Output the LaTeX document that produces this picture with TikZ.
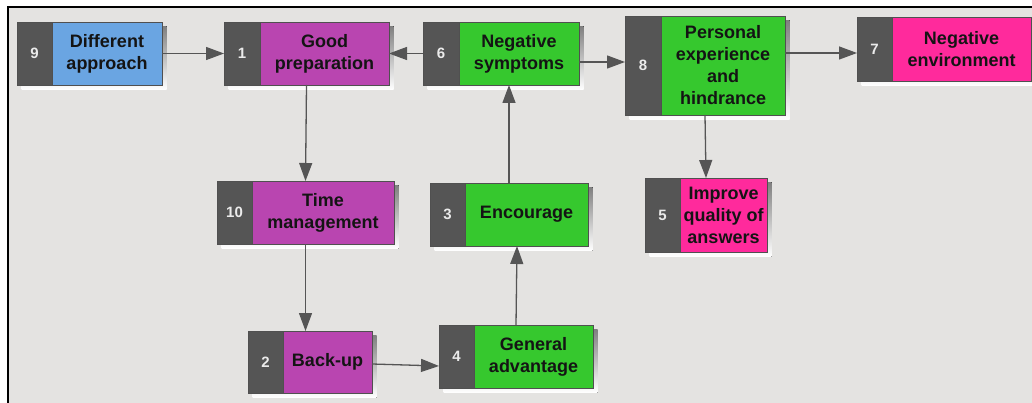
\documentclass[tikz,border=0pt]{standalone}
\usepackage{fontspec}
\setmainfont{Liberation Sans}
\usetikzlibrary{arrows.meta}

\definecolor{bg}{HTML}{E4E3E1}
\definecolor{numgray}{HTML}{555555}
\definecolor{shade}{HTML}{888888}
\definecolor{edgegray}{HTML}{505050}
\definecolor{cblue}{HTML}{6AA5E2}
\definecolor{cpurple}{HTML}{B945B0}
\definecolor{cgreen}{HTML}{36C82E}
\definecolor{cpink}{HTML}{FF2A9C}
\definecolor{ink}{HTML}{141414}

\tikzset{
  outerbox/.style={draw=edgegray, line width=0.8pt, fill=numgray, inner sep=0pt, outer sep=0pt},
  textpart/.style={draw=edgegray, line width=0.8pt, inner sep=0pt, outer sep=0pt, align=center,
    text=ink, font=\fontsize{18}{22}\selectfont\bfseries},
  numtext/.style={inner sep=0pt, text=white!92!black, font=\fontsize{15}{18}\selectfont\bfseries},
  conn/.style={draw=numgray, line width=1.3pt, -{Triangle[length=18pt,width=13pt]}}
}

% #1 name, #2..#5 corners (x1,y1,x2,y2), #6 split between number and text, #7 colour, #8 number, #9 text
\newcommand\factorbox[9]{%
  \fill[shade] ({#2+4.5},{#3+4.5}) rectangle ({#4+4.5},{#5+4.5});
  \node[outerbox, minimum width={#4-#2}, minimum height={#5-#3}] (#1) at ({(#2+#4)/2},{(#3+#5)/2}) {};
  \node[textpart, fill=#7, minimum width={#4-#6}, minimum height={#5-#3}] (#1-text) at ({(#6+#4)/2},{(#3+#5)/2}) {#9};
  \node[numtext] (#1-num) at ({(#2+#6)/2},{(#3+#5)/2}) {#8};
}

\begin{document}
\begin{tikzpicture}[x=1pt, y=-1pt]
  \useasboundingbox (0,0) rectangle (1032,403);
  \fill[white] (0,0) rectangle (1032,403);
  \fill[bg] (8,7) rectangle (1032,403);
  \draw[black, line width=1.5pt] (8,403) -- (8,7) -- (1032,7);

  \factorbox{n9}{17}{22}{162}{85}{52}{cblue}{9}{Different\\approach}
  \factorbox{n1}{224}{22}{389}{85}{260}{cpurple}{1}{Good\\preparation}
  \factorbox{n6}{423}{22}{579}{85}{459}{cgreen}{6}{Negative\\symptoms}
  \factorbox{n8}{625}{16}{785}{115}{661}{cgreen}{8}{Personal\\experience\\and\\hindrance}
  \factorbox{n7}{857}{17}{1031}{81}{892}{cpink}{7}{Negative\\environment}
  \factorbox{n10}{217}{181}{394}{244}{252}{cpurple}{10}{Time\\management}
  \factorbox{n3}{430}{183}{588}{246}{465}{cgreen}{3}{Encourage}
  \factorbox{n5}{645}{178}{767}{252}{680}{cpink}{5}{Improve\\quality of\\answers}
  \factorbox{n2}{248}{331}{372}{393}{283}{cpurple}{2}{Back-up}
  \factorbox{n4}{439}{325}{593}{388}{474}{cgreen}{4}{General\\advantage}

  \draw[conn] (n9.east) -- (n1.west);
  \draw[conn] (n6.west) -- (n1.east);
  \draw[conn] ([yshift=-8.5pt]n6.east) -- ([yshift=3.5pt]n8.west);
  \draw[conn] ([yshift=12.5pt]n8.east) -- ([yshift=-4pt]n7.west);
  \draw[conn] (n8.south) -- (n5.north);
  \draw[conn] (n1.south) -- (n10.north);
  \draw[conn] (n10.south) -- (n10.south |- n2.north);
  \draw[conn] ([yshift=-2pt]n2.east) -- ([yshift=-9.5pt]n4.west);
  \draw[conn] (n4.north) -- ([xshift=8pt]n3.south);
  \draw[conn] (n3.north) -- (n3.north |- n6.south);
\end{tikzpicture}
\end{document}
